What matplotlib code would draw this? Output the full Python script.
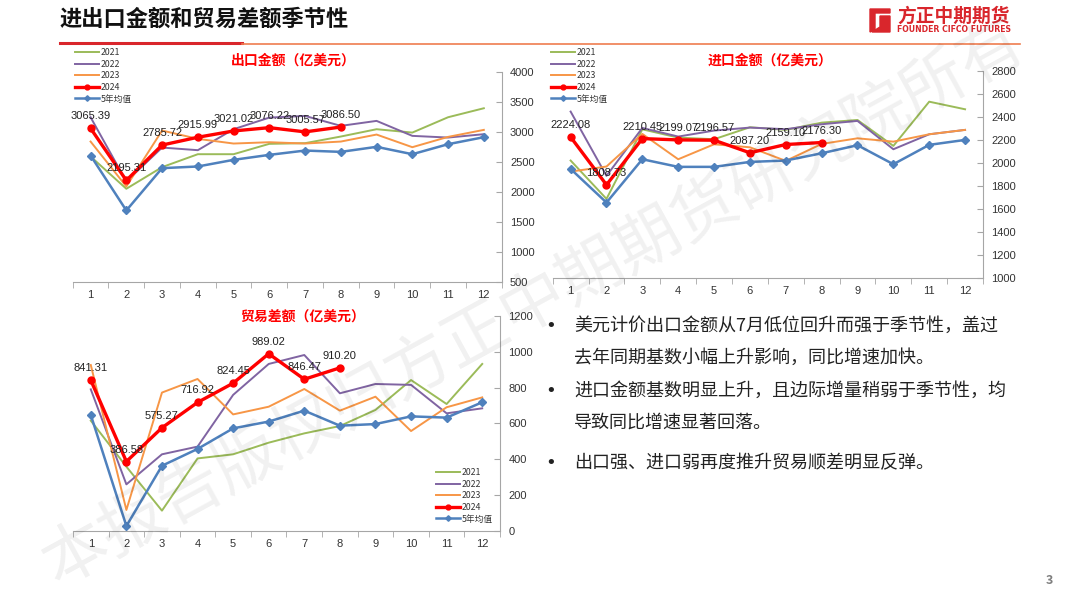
import matplotlib
matplotlib.use("Agg")
import matplotlib.pyplot as plt
from matplotlib.patches import Polygon

plt.rcParams["font.family"] = ["Noto Sans CJK SC", "DejaVu Sans"]

months = list(range(1, 13))
month_labels = [str(m) for m in months]
series_names = ["2021", "2022", "2023", "2024", "5年均值"]

# 出口金额（亿美元）
export_2021 = [2595, 2056, 2417, 2633, 2633, 2806, 2817, 2928, 3050, 2994, 3250, 3400]
export_2022 = [3250, 2178, 2744, 2700, 3050, 3244, 3272, 3106, 3189, 2939, 2911, 2967]
export_2023 = [2844, 2094, 3028, 2889, 2811, 2833, 2811, 2844, 2961, 2750, 2922, 3039]
export_2024 = [3065.39, 2195.31, 2785.72, 2915.99, 3021.02, 3076.22, 3005.57, 3086.50]
export_avg = [2611, 1694, 2400, 2428, 2539, 2622, 2694, 2672, 2756, 2633, 2800, 2917]

# 进口金额（亿美元）
import_2021 = [2020, 1687, 2291, 2219, 2205, 2309, 2286, 2349, 2372, 2147, 2531, 2465]
import_2022 = [2445, 1887, 2303, 2228, 2280, 2306, 2292, 2335, 2364, 2118, 2248, 2286]
import_2023 = [1924, 1968, 2251, 2031, 2161, 2135, 2017, 2164, 2213, 2184, 2248, 2286]
import_2024 = [2224.08, 1808.73, 2210.45, 2199.07, 2196.57, 2087.20, 2159.10, 2176.30]
import_avg = [1947, 1655, 2031, 1965, 1965, 2008, 2020, 2083, 2153, 1988, 2156, 2199]

# 贸易差额（亿美元）
balance_2021 = [615, 358, 112, 404, 427, 492, 544, 585, 675, 842, 708, 932]
balance_2022 = [790, 259, 427, 470, 759, 932, 982, 768, 820, 815, 656, 684]
balance_2023 = [926, 116, 772, 848, 650, 693, 792, 671, 749, 557, 690, 745]
balance_2024 = [841.31, 386.58, 575.27, 716.92, 824.45, 989.02, 846.47, 910.20]
balance_avg = [647, 26, 363, 457, 572, 610, 671, 587, 596, 639, 632, 718]

bullets = [
    ["美元计价出口金额从7月低位回升而强于季节性，盖过", "去年同期基数小幅上升影响，同比增速加快。"],
    ["进口金额基数明显上升，且边际增量稍弱于季节性，均", "导致同比增速显著回落。"],
    ["出口强、进口弱再度推升贸易顺差明显反弹。"],
]

colors = ["#9bbb59", "#8064a2", "#f79646", "#ff0000", "#4f81bd"]
num_font = ["Liberation Sans", "DejaVu Sans"]
W, H = 1080, 608
fig = plt.figure(figsize=(W / 100, H / 100), dpi=100)


def px_axes(x0, y_top, x1, y_bot):
    return fig.add_axes([x0 / W, 1 - y_bot / H, (x1 - x0) / W, (y_bot - y_top) / H])


def draw_chart(ax, data, ylim, step, title, title_xy, legend_xy):
    for name, vals, c in zip(series_names, data, colors):
        x = months[:len(vals)]
        if name == "2024":
            ax.plot(x, vals, color=c, lw=2.4, marker="o", ms=5, label=name, zorder=5)
            for xi, v in zip(x, vals):
                ax.annotate(f"{v:.2f}", (xi, v), xytext=(0, 5), textcoords="offset points",
                            ha="center", va="bottom", fontsize=8, color="#222222",
                            family=num_font, zorder=6)
        elif name == "5年均值":
            ax.plot(x, vals, color=c, lw=1.8, marker="D", ms=4, label=name, zorder=4)
        else:
            ax.plot(x, vals, color=c, lw=1.4, label=name, zorder=3)
    ax.set_xlim(0.5, 12.5)
    ax.set_ylim(*ylim)
    ax.set_yticks(range(ylim[0], ylim[1] + 1, step))
    ax.set_xticks(months)
    ax.set_xticklabels(month_labels)
    ax.set_xticks([m + 0.5 for m in range(0, 13)], minor=True)
    ax.yaxis.tick_right()
    for lab in ax.get_xticklabels() + ax.get_yticklabels():
        lab.set_family(num_font)
    for s in ["top", "left"]:
        ax.spines[s].set_visible(False)
    for s in ["bottom", "right"]:
        ax.spines[s].set_color("#a6a6a6")
    ax.tick_params(axis="x", which="major", length=0, pad=6, labelsize=8, colors="#333333")
    ax.tick_params(axis="x", which="minor", length=4, direction="out", color="#a6a6a6")
    ax.tick_params(axis="y", length=4, direction="in", pad=6, labelsize=8,
                   color="#a6a6a6", labelcolor="#333333")
    ax.patch.set_alpha(0)
    fig.text(title_xy[0] / W, 1 - title_xy[1] / H, title, color="#ff0000", fontsize=10,
             fontweight="bold", ha="center", va="center")
    leg = ax.legend(loc="upper left", bbox_to_anchor=(legend_xy[0] / W, 1 - legend_xy[1] / H),
                    bbox_transform=fig.transFigure, frameon=False, fontsize=6.3,
                    handlelength=2.7, handletextpad=0.2, labelspacing=0.3,
                    borderpad=0, borderaxespad=0, markerscale=0.7)
    for t in leg.get_texts():
        t.set_color("#333333")


ax1 = px_axes(72.7, 72.3, 501.7, 282)
draw_chart(ax1, [export_2021, export_2022, export_2023, export_2024, export_avg],
           (500, 4000), 500, "出口金额（亿美元）", (293, 61), (75, 48))

ax2 = px_axes(552.7, 70.7, 983, 278)
draw_chart(ax2, [import_2021, import_2022, import_2023, import_2024, import_avg],
           (1000, 2800), 200, "进口金额（亿美元）", (770, 61), (551, 48))

ax3 = px_axes(73, 316, 500, 530.7)
draw_chart(ax3, [balance_2021, balance_2022, balance_2023, balance_2024, balance_avg],
           (0, 1200), 200, "贸易差额（亿美元）", (303, 318), (436, 468))

# header
fig.text(60 / W, 1 - 19 / H, "进出口金额和贸易差额季节性", fontsize=16, fontweight="bold",
         color="#111111", ha="left", va="center")
fig.add_artist(plt.Line2D([60 / W, 242 / W], [1 - 43 / H] * 2, color="#d9262c", lw=2.2))
fig.add_artist(plt.Line2D([242 / W, 1020 / W], [1 - 43.5 / H] * 2, color="#ef7d4f", lw=1.2))

# logo
logo_red = "#d9262c"
fig.add_artist(Polygon([(870 / W, 1 - 9 / H), (890 / W, 1 - 9 / H), (890 / W, 1 - 13 / H),
                        (875 / W, 1 - 13 / H), (875 / W, 1 - 30 / H), (870 / W, 1 - 32 / H)],
                       closed=True, color=logo_red, transform=fig.transFigure))
fig.add_artist(Polygon([(880 / W, 1 - 16 / H), (890 / W, 1 - 16 / H), (890 / W, 1 - 32 / H),
                        (872 / W, 1 - 32 / H), (880 / W, 1 - 27 / H)],
                       closed=True, color=logo_red, transform=fig.transFigure))
fig.text(954 / W, 1 - 16 / H, "方正中期期货", fontsize=13.5, fontweight="bold", color=logo_red,
         ha="center", va="center")
fig.text(954 / W, 1 - 29.5 / H, "FOUNDER CIFCO FUTURES", fontsize=5.6, fontweight="bold",
         color=logo_red, ha="center", va="center", family="DejaVu Sans")

# bullets
line_y = [[326, 358], [391, 423], [463]]
for lines, ys in zip(bullets, line_y):
    fig.text(551 / W, 1 - ys[0] / H, "•", fontsize=13, color="#222222", ha="center",
             va="center", family="DejaVu Sans")
    for txt, y in zip(lines, ys):
        fig.text(574 / W, 1 - y / H, txt, fontsize=13, color="#222222", ha="left", va="center")

fig.text(1049 / W, 1 - 580 / H, "3", fontsize=9, fontweight="bold", color="#7f7f7f",
         ha="center", va="center")

# watermark
fig.text(535 / W, 1 - 305 / H, "本报告版权归方正中期期货研究院所有", fontsize=47, color="#000000",
         alpha=0.06, rotation=28.7, ha="center", va="center", zorder=10)

fig.savefig("out.png", dpi=100)
